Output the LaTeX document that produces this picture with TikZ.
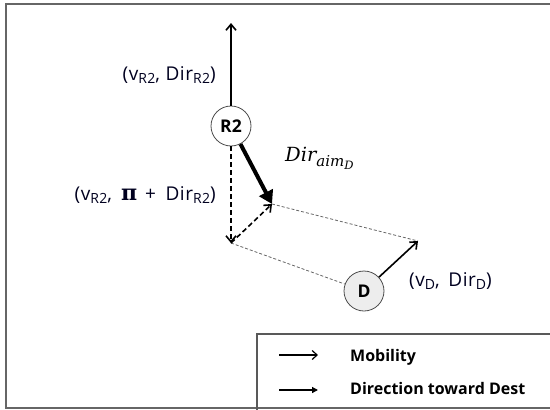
\documentclass[tikz,border=0pt]{standalone}
\usepackage{fontspec}
\setmainfont{Open Sans}
\newfontfamily\seriffam{DejaVu Serif}
\usetikzlibrary{arrows.meta}
\newcommand{\lowtxt}[1]{\raisebox{-0.35ex}{\fontsize{14}{14}\selectfont #1}}
\tikzset{
  lbl/.style={font=\fontsize{19}{19}\selectfont\addfontfeature{LetterSpace=3}, text=black!88!blue, inner sep=0pt},
  legtxt/.style={font=\fontsize{16}{16}\selectfont\bfseries, anchor=west, inner sep=0pt},
  robot/.style={circle, draw=black!70, line width=0.8pt, minimum size=40pt, inner sep=0pt, font=\fontsize{17.5}{17.5}\selectfont\bfseries},
  mob/.style={line width=1.6pt, -{Straight Barb[length=6pt,width=10pt,line width=1.6pt]}},
  thin dash/.style={draw=black!60, line width=0.8pt, dash pattern=on 3pt off 2pt},
  frame/.style={draw=black!60, line width=2.2pt}
}
\begin{document}
\begin{tikzpicture}[x=1pt,y=-1pt]
\useasboundingbox (0,0) rectangle (550,410);
% outer frame
\draw[frame] (552,4) -- (6,4) -- (6,408) -- (552,408);
% legend box
\draw[draw=black!65, line width=1.3pt] (552,334) -- (257,334) -- (257,410);
% nodes
\node[robot, fill=white] (R2) at (231,126) {R2};
\node[robot, fill=black!7] (D) at (364,291) {D};
\coordinate (top) at (231,23);
\coordinate (A) at (231,243);
\coordinate (B) at (272,204);
\coordinate (C) at (418,241);
% parallelogram guides
\draw[thin dash] (B) -- (C);
\draw[thin dash] (A) -- (D);
% arrows
\draw[mob] (R2) -- (top);
\draw[mob, dash pattern=on 5pt off 3pt] (R2) -- (A);
\draw[mob, dash pattern=on 5pt off 3pt] (A) -- (B);
\draw[line width=4pt, -{Triangle[length=13pt,width=15pt]}] (R2) -- (B);
\draw[mob] (D) -- (C);
% labels
\node[lbl, anchor=east] (l1) at (216,75) {(v\lowtxt{R2}, Dir\lowtxt{R2})};
\node[lbl, anchor=east] (l2) at (216,195) {(v\lowtxt{R2},\hspace{9pt}{\seriffam\bfseries\fontsize{22}{22}\selectfont π}\hspace{8pt}+\hspace{4pt} Dir\lowtxt{R2})};
\node[lbl, anchor=west] (l3) at (409,281) {(v\lowtxt{D}, \,Dir\lowtxt{D})};
\node[inner sep=0pt, anchor=base west, font=\fontsize{19.5}{19.5}\selectfont\seriffam\itshape] (l4) at (285,161) {Dir\raisebox{-0.5ex}{\fontsize{15}{15}\selectfont aim\raisebox{-0.45ex}{\fontsize{11.5}{11.5}\selectfont D}}};
% legend
\coordinate (m1) at (279,355);
\coordinate (m2) at (318,355);
\coordinate (d1) at (279,390);
\coordinate (d2) at (318,390);
\draw[line width=1.2pt, -{Straight Barb[length=5pt,width=9pt,line width=1.2pt]}] (m1) -- (m2);
\draw[line width=1.3pt, -{Triangle[length=6pt,width=6pt]}] (d1) -- (d2);
\node[legtxt] (t1) at (350,357) {Mobility};
\node[legtxt] (t2) at (350,388) {Direction toward Dest};
\end{tikzpicture}
\end{document}
